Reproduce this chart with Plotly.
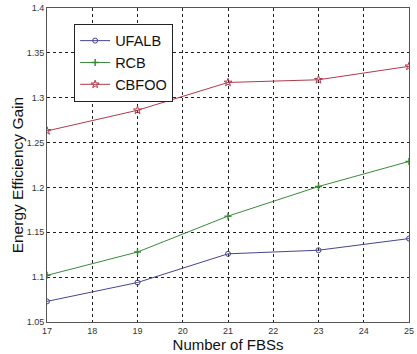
import plotly.graph_objects as go

x_fbs = [17, 19, 21, 23, 25]
ufalb = [1.073, 1.094, 1.126, 1.130, 1.143]
rcb = [1.102, 1.128, 1.168, 1.201, 1.229]
cbfoo = [1.263, 1.286, 1.317, 1.320, 1.335]

x_ticks = list(range(17, 26))
y_ticks = [1.05, 1.1, 1.15, 1.2, 1.25, 1.3, 1.35, 1.4]
y_labels = ["1.05", "1.1", "1.15", "1.2", "1.25", "1.3", "1.35", "1.4"]

fig = go.Figure()
fig.add_trace(go.Scatter(x=x_fbs, y=ufalb, name="UFALB", mode="lines+markers",
                         line=dict(color="#45458f", width=1),
                         marker=dict(symbol="circle-open", size=5, color="#45458f", line=dict(width=1))))
fig.add_trace(go.Scatter(x=x_fbs, y=rcb, name="RCB", mode="lines+markers",
                         line=dict(color="#3a8a3a", width=1),
                         marker=dict(symbol="cross-thin-open", size=5, color="#3a8a3a", line=dict(width=1.5))))
fig.add_trace(go.Scatter(x=x_fbs, y=cbfoo, name="CBFOO", mode="lines+markers",
                         line=dict(color="#b03a4a", width=1),
                         marker=dict(symbol="star-open", size=6, color="#b03a4a", line=dict(width=1))))

fig.add_annotation(text="Energy Efficiency Gain", xref="paper", yref="paper",
                   x=0, y=0.467, xanchor="center", yanchor="middle", xshift=-30,
                   textangle=-90, showarrow=False, font=dict(size=15.5, color="#111"))

fig.update_layout(
    width=417, height=354,
    margin=dict(l=47, r=3, t=7, b=32),
    paper_bgcolor="white", plot_bgcolor="white",
    font=dict(family="Liberation Sans, Arial, sans-serif", color="#111"),
    showlegend=True,
    legend=dict(x=0.075, y=0.95, xanchor="left", yanchor="top",
                bgcolor="white", bordercolor="#222", borderwidth=1,
                font=dict(size=14.5), tracegroupgap=0, itemwidth=30),
    xaxis=dict(range=[17, 25], tickvals=x_ticks, ticktext=[str(v) for v in x_ticks],
               showgrid=True, gridcolor="#222", griddash="dot", gridwidth=1,
               showline=True, linecolor="#555", linewidth=1, mirror=True,
               ticks="", tickfont=dict(size=9, color="#333"), zeroline=False,
               ticklabeloverflow="allow",
               title=dict(text="Number of FBSs", font=dict(size=15), standoff=4)),
    yaxis=dict(range=[1.05, 1.4], tickvals=y_ticks, ticktext=y_labels,
               showgrid=True, gridcolor="#222", griddash="dot", gridwidth=1,
               showline=True, linecolor="#555", linewidth=1, mirror=True,
               ticks="", tickfont=dict(size=9, color="#333"), zeroline=False),
)

fig.write_html("out.html")
